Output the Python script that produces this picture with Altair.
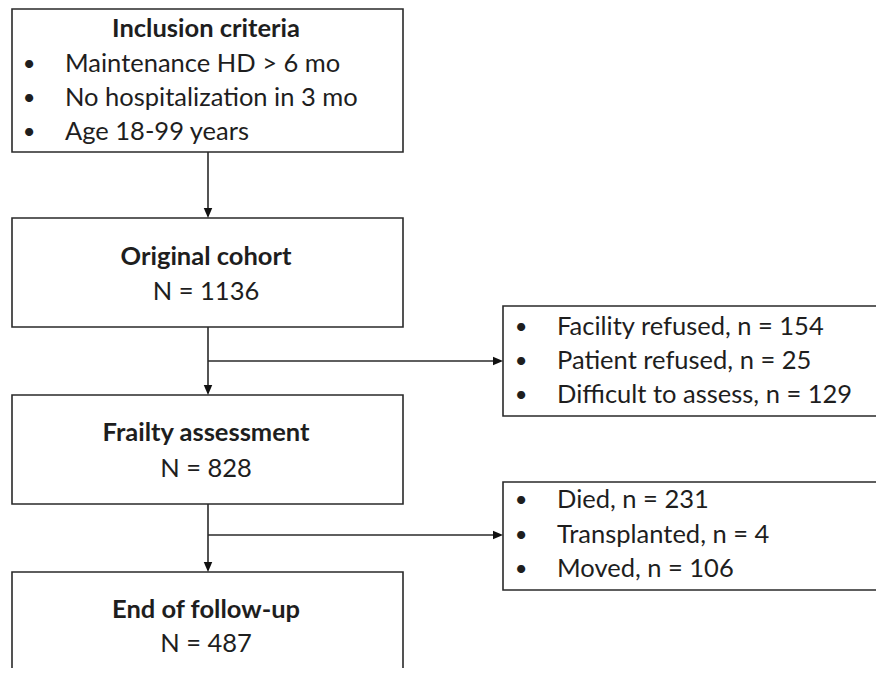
import altair as alt
import pandas as pd

# ---- content ----
stage_titles = ["Inclusion criteria", "Original cohort", "Frailty assessment", "End of follow-up"]
stage_n = [None, 1136, 828, 487]
inclusion_items = ["Maintenance HD > 6 mo", "No hospitalization in 3 mo", "Age 18-99 years"]
excl1_labels = ["Facility refused", "Patient refused", "Difficult to assess"]
excl1_n = [154, 25, 129]
excl2_labels = ["Died", "Transplanted", "Moved"]
excl2_n = [231, 4, 106]

# ---- layout (page pixels) ----
MAIN_X0, MAIN_X1 = 12, 403
SIDE_X0, SIDE_X1 = 503, 900
STEM_X = 208
main_boxes = [(9, 152), (218, 327), (395, 504), (572, 720)]
side_boxes = [(306, 416), (482, 590)]
branch_y = [361, 535]
title_y = [29, 257, 433, 610]
n_y = [None, 292, 469, 644]
incl_rows = [64, 98, 132]
side_rows = [[327, 361, 395], [500, 535, 569]]
BULLET_X_MAIN, TEXT_X_MAIN = 29, 65
BULLET_X_SIDE, TEXT_X_SIDE = 521, 557
CENTER_X = 206

FONT = "Lato"
INK = "#1e1e1e"
LINE = "#2a2a2a"
FS = 25.5

X = alt.Scale(domain=[8, 876], nice=False, zero=False)
Y = alt.Scale(domain=[8, 668], nice=False, zero=False, reverse=True)

# boxes
rows = []
for (y0, y1) in main_boxes:
    rows.append(dict(x=MAIN_X0, x2=MAIN_X1, y=y0, y2=y1))
for (y0, y1) in side_boxes:
    rows.append(dict(x=SIDE_X0, x2=SIDE_X1, y=y0, y2=y1))
boxes_df = pd.DataFrame(rows)

boxes = alt.Chart(boxes_df).mark_rect(
    fill="white", stroke=LINE, strokeWidth=1.6, clip=True
).encode(
    x=alt.X("x:Q", scale=X, axis=None), x2="x2:Q",
    y=alt.Y("y:Q", scale=Y, axis=None), y2="y2:Q",
)

# connector lines
seg = []
for i in range(3):
    seg.append(dict(x=STEM_X, x2=STEM_X, y=main_boxes[i][1], y2=main_boxes[i + 1][0] - 4))
for by in branch_y:
    seg.append(dict(x=STEM_X, x2=SIDE_X0 - 4, y=by, y2=by))
seg_df = pd.DataFrame(seg)
lines = alt.Chart(seg_df).mark_rule(color=LINE, strokeWidth=1.6).encode(
    x=alt.X("x:Q", scale=X, axis=None), x2="x2:Q",
    y=alt.Y("y:Q", scale=Y, axis=None), y2="y2:Q",
)

# arrowheads
down_df = pd.DataFrame([dict(x=STEM_X, y=main_boxes[i + 1][0] - 5) for i in range(3)])
right_df = pd.DataFrame([dict(x=SIDE_X0 - 5, y=by) for by in branch_y])
down = alt.Chart(down_df).mark_point(
    shape="M-0.85,-1L0.85,-1L0,1Z", filled=True, size=100, color="#111111", opacity=1
).encode(x=alt.X("x:Q", scale=X, axis=None), y=alt.Y("y:Q", scale=Y, axis=None))
right = alt.Chart(right_df).mark_point(
    shape="M-1,-0.85L1,0L-1,0.85Z", filled=True, size=100, color="#111111", opacity=1
).encode(x=alt.X("x:Q", scale=X, axis=None), y=alt.Y("y:Q", scale=Y, axis=None))

# texts
titles_df = pd.DataFrame([dict(x=CENTER_X, y=title_y[i], t=stage_titles[i]) for i in range(4)])
n_df = pd.DataFrame([dict(x=CENTER_X, y=n_y[i], t=f"N = {stage_n[i]}") for i in range(1, 4)])

left_rows, bullet_rows = [], []
for r, item in zip(incl_rows, inclusion_items):
    left_rows.append(dict(x=TEXT_X_MAIN, y=r, t=item))
    bullet_rows.append(dict(x=BULLET_X_MAIN, y=r))
for labels, ns, ys in [(excl1_labels, excl1_n, side_rows[0]), (excl2_labels, excl2_n, side_rows[1])]:
    for lab, n, r in zip(labels, ns, ys):
        left_rows.append(dict(x=TEXT_X_SIDE, y=r, t=f"{lab}, n = {n}"))
        bullet_rows.append(dict(x=BULLET_X_SIDE, y=r))
left_df = pd.DataFrame(left_rows)
bullet_df = pd.DataFrame(bullet_rows)
bullet_df["t"] = "•"

def txt(df, align, weight="normal", size=FS):
    return alt.Chart(df).mark_text(
        align=align, baseline="middle", font=FONT, fontSize=size,
        fontWeight=weight, color=INK
    ).encode(
        x=alt.X("x:Q", scale=X, axis=None),
        y=alt.Y("y:Q", scale=Y, axis=None),
        text="t:N",
    )

chart = alt.layer(
    boxes, lines, down, right,
    txt(titles_df, "center", "bold"),
    txt(n_df, "center"),
    txt(left_df, "left"),
    txt(bullet_df, "center", size=22),
).properties(
    width=868, height=660, padding=0, background="white"
).configure_view(stroke=None)

chart.save("out.html", embed_options={"renderer": "svg", "actions": False})
